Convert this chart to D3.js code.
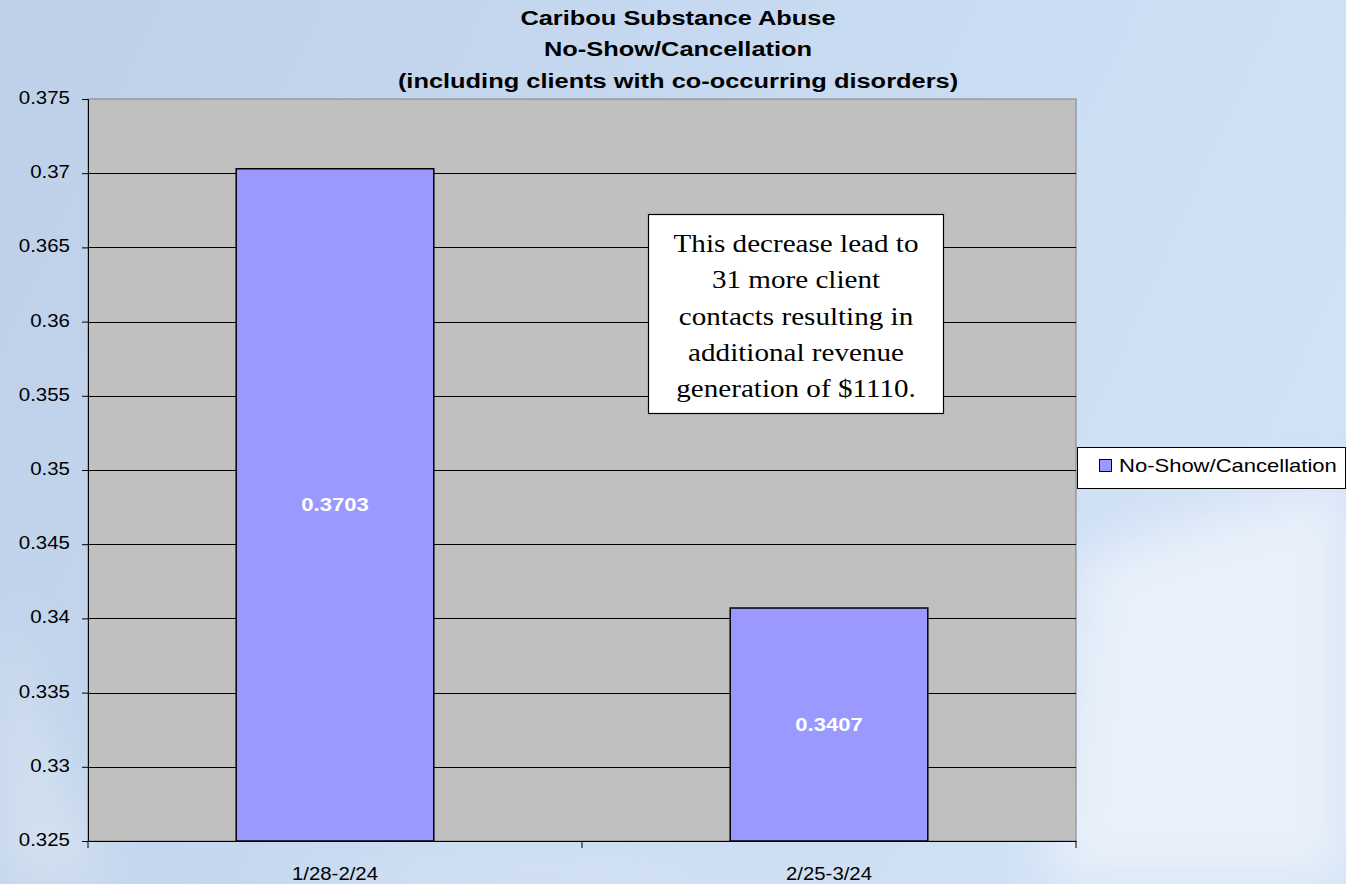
<!DOCTYPE html>
<html><head><meta charset="utf-8">
<script src="https://cdn.jsdelivr.net/npm/d3@7"></script>
<style>html,body{margin:0;padding:0;overflow:hidden;}svg{display:block;}</style>
</head><body>
<script>
const categories = ["1/28-2/24", "2/25-3/24"];
const values = [0.3703, 0.3407];
const valueLabels = ["0.3703", "0.3407"];
const seriesName = "No-Show/Cancellation";
const yTicks = [0.325, 0.33, 0.335, 0.34, 0.345, 0.35, 0.355, 0.36, 0.365, 0.37, 0.375];
const yTickLabels = ["0.325", "0.33", "0.335", "0.34", "0.345", "0.35", "0.355", "0.36", "0.365", "0.37", "0.375"];
const titleLines = ["Caribou Substance Abuse", "No-Show/Cancellation", "(including clients with co-occurring disorders)"];
const noteLines = ["This decrease lead to", "31 more client", "contacts resulting in", "additional revenue", "generation of $1110."];

const W = 1346, H = 884;
const SANS = "Arial, 'Liberation Sans', sans-serif";
const SERIF = "'Times New Roman', 'Liberation Serif', serif";
const svg = d3.select("body").append("svg").attr("width", W).attr("height", H);
const defs = svg.append("defs");

// helper: horizontally stretched text
function stext(g, x, y, str, opts) {
  return g.append("text")
    .attr("transform", `translate(${x},${y}) scale(${opts.sx || 1},1)`)
    .attr("text-anchor", opts.anchor || "start")
    .attr("font-family", opts.family || SANS)
    .attr("font-weight", opts.weight || "normal")
    .attr("font-size", opts.size)
    .attr("fill", opts.fill || "#000")
    .text(str);
}

// background
const bg = defs.append("linearGradient").attr("id", "bg").attr("x1", 0).attr("y1", 0).attr("x2", 1).attr("y2", 0.3);
bg.append("stop").attr("offset", "0").attr("stop-color", "#bdd0e8");
bg.append("stop").attr("offset", "0.5").attr("stop-color", "#c6d9f0");
bg.append("stop").attr("offset", "1").attr("stop-color", "#d2e2f6");
svg.append("rect").attr("width", W).attr("height", H).attr("fill", "url(#bg)");
const blur = defs.append("filter").attr("id", "blur").attr("x", "-50%").attr("y", "-50%").attr("width", "200%").attr("height", "200%");
blur.append("feGaussianBlur").attr("stdDeviation", 25);
svg.append("path").attr("d", "M1080,560 C1180,520 1280,500 1346,480 L1346,884 L1050,884 Z")
  .attr("fill", "#eef4fb").attr("opacity", 0.8).attr("filter", "url(#blur)");
svg.append("path").attr("d", "M0,600 C40,700 60,800 120,884 L0,884 Z")
  .attr("fill", "#dfe8f2").attr("opacity", 0.6).attr("filter", "url(#blur)");
svg.append("path").attr("d", "M250,884 C400,850 600,840 800,884 Z")
  .attr("fill", "#e3ecf6").attr("opacity", 0.6).attr("filter", "url(#blur)");

const m = {left: 88, top: 99, right: 1076, bottom: 841};
const x = d3.scaleBand().domain(categories).range([m.left, m.right]).paddingInner(0).paddingOuter(0);
const y = d3.scaleLinear().domain([0.325, 0.375]).range([m.bottom, m.top]);

// plot area
svg.append("rect").attr("x", m.left).attr("y", m.top).attr("width", m.right - m.left).attr("height", m.bottom - m.top)
  .attr("fill", "#c0c0c0").attr("stroke", "#808080").attr("stroke-width", 1);

// gridlines
svg.append("g").selectAll("line").data(yTicks.slice(1, -1)).join("line")
  .attr("x1", m.left).attr("x2", m.right)
  .attr("y1", d => Math.round(y(d)) + 0.5).attr("y2", d => Math.round(y(d)) + 0.5)
  .attr("stroke", "#000").attr("stroke-width", 1);

// bars
const bw = x.bandwidth() * 0.4;
svg.append("g").selectAll("rect").data(values).join("rect")
  .attr("x", (d, i) => x(categories[i]) + (x.bandwidth() - bw) / 2)
  .attr("y", d => y(d))
  .attr("width", bw)
  .attr("height", d => y(0.325) - y(d))
  .attr("fill", "#9999ff").attr("stroke", "#000").attr("stroke-width", 1.5);

const gl = svg.append("g");
values.forEach((d, i) => {
  stext(gl, x(categories[i]) + x.bandwidth() / 2, (y(d) + y(0.325)) / 2 + 6.5, valueLabels[i],
    {anchor: "middle", fill: "#fff", weight: "bold", size: 18.5, sx: 1.19});
});

// y axis (line + ticks via d3 axis, labels drawn stretched)
const yAxis = d3.axisLeft(y).tickValues(yTicks).tickFormat("").tickSize(6);
const ga = svg.append("g").attr("transform", `translate(${m.left},0)`).call(yAxis);
ga.select(".domain").attr("stroke", "#000");
ga.selectAll(".tick line").attr("stroke", "#000");
const gyl = svg.append("g");
yTicks.forEach((t, i) => stext(gyl, 70, y(t) + 5, yTickLabels[i], {anchor: "end", size: 17.5, sx: 1.17}));

// x axis
const xAxis = d3.axisBottom(x).tickSize(0).tickFormat("");
const gx = svg.append("g").attr("transform", `translate(0,${m.bottom})`).call(xAxis);
gx.select(".domain").attr("stroke", "#000");
const xb = [m.left, x(categories[1]), m.right];
svg.append("g").selectAll("line").data(xb).join("line")
  .attr("x1", d => d).attr("x2", d => d).attr("y1", m.bottom).attr("y2", m.bottom + 7).attr("stroke", "#000");
const gxl = svg.append("g");
categories.forEach(c => stext(gxl, x(c) + x.bandwidth() / 2, 880, c, {anchor: "middle", size: 18.5, sx: 1.1}));

// title
const gt = svg.append("g");
titleLines.forEach((t, i) => stext(gt, 678, 24.5 + i * 31.8, t, {anchor: "middle", weight: "bold", size: 20, sx: 1.27}));

// note box
svg.append("rect").attr("x", 648.5).attr("y", 214.5).attr("width", 295).attr("height", 199)
  .attr("fill", "#fff").attr("stroke", "#000").attr("stroke-width", 1.2);
const gn = svg.append("g");
noteLines.forEach((t, i) => stext(gn, 796, 252 + i * 36.3, t, {anchor: "middle", family: SERIF, size: 26, sx: 1.12}));

// legend
svg.append("rect").attr("x", 1077.5).attr("y", 447.5).attr("width", 268).attr("height", 41)
  .attr("fill", "#fff").attr("stroke", "#000").attr("stroke-width", 1);
svg.append("rect").attr("x", 1099.5).attr("y", 459.5).attr("width", 12).attr("height", 12)
  .attr("fill", "#9999ff").attr("stroke", "#000").attr("stroke-width", 1);
stext(svg, 1119, 472, seriesName, {size: 18.5, sx: 1.19});
</script>
</body></html>
